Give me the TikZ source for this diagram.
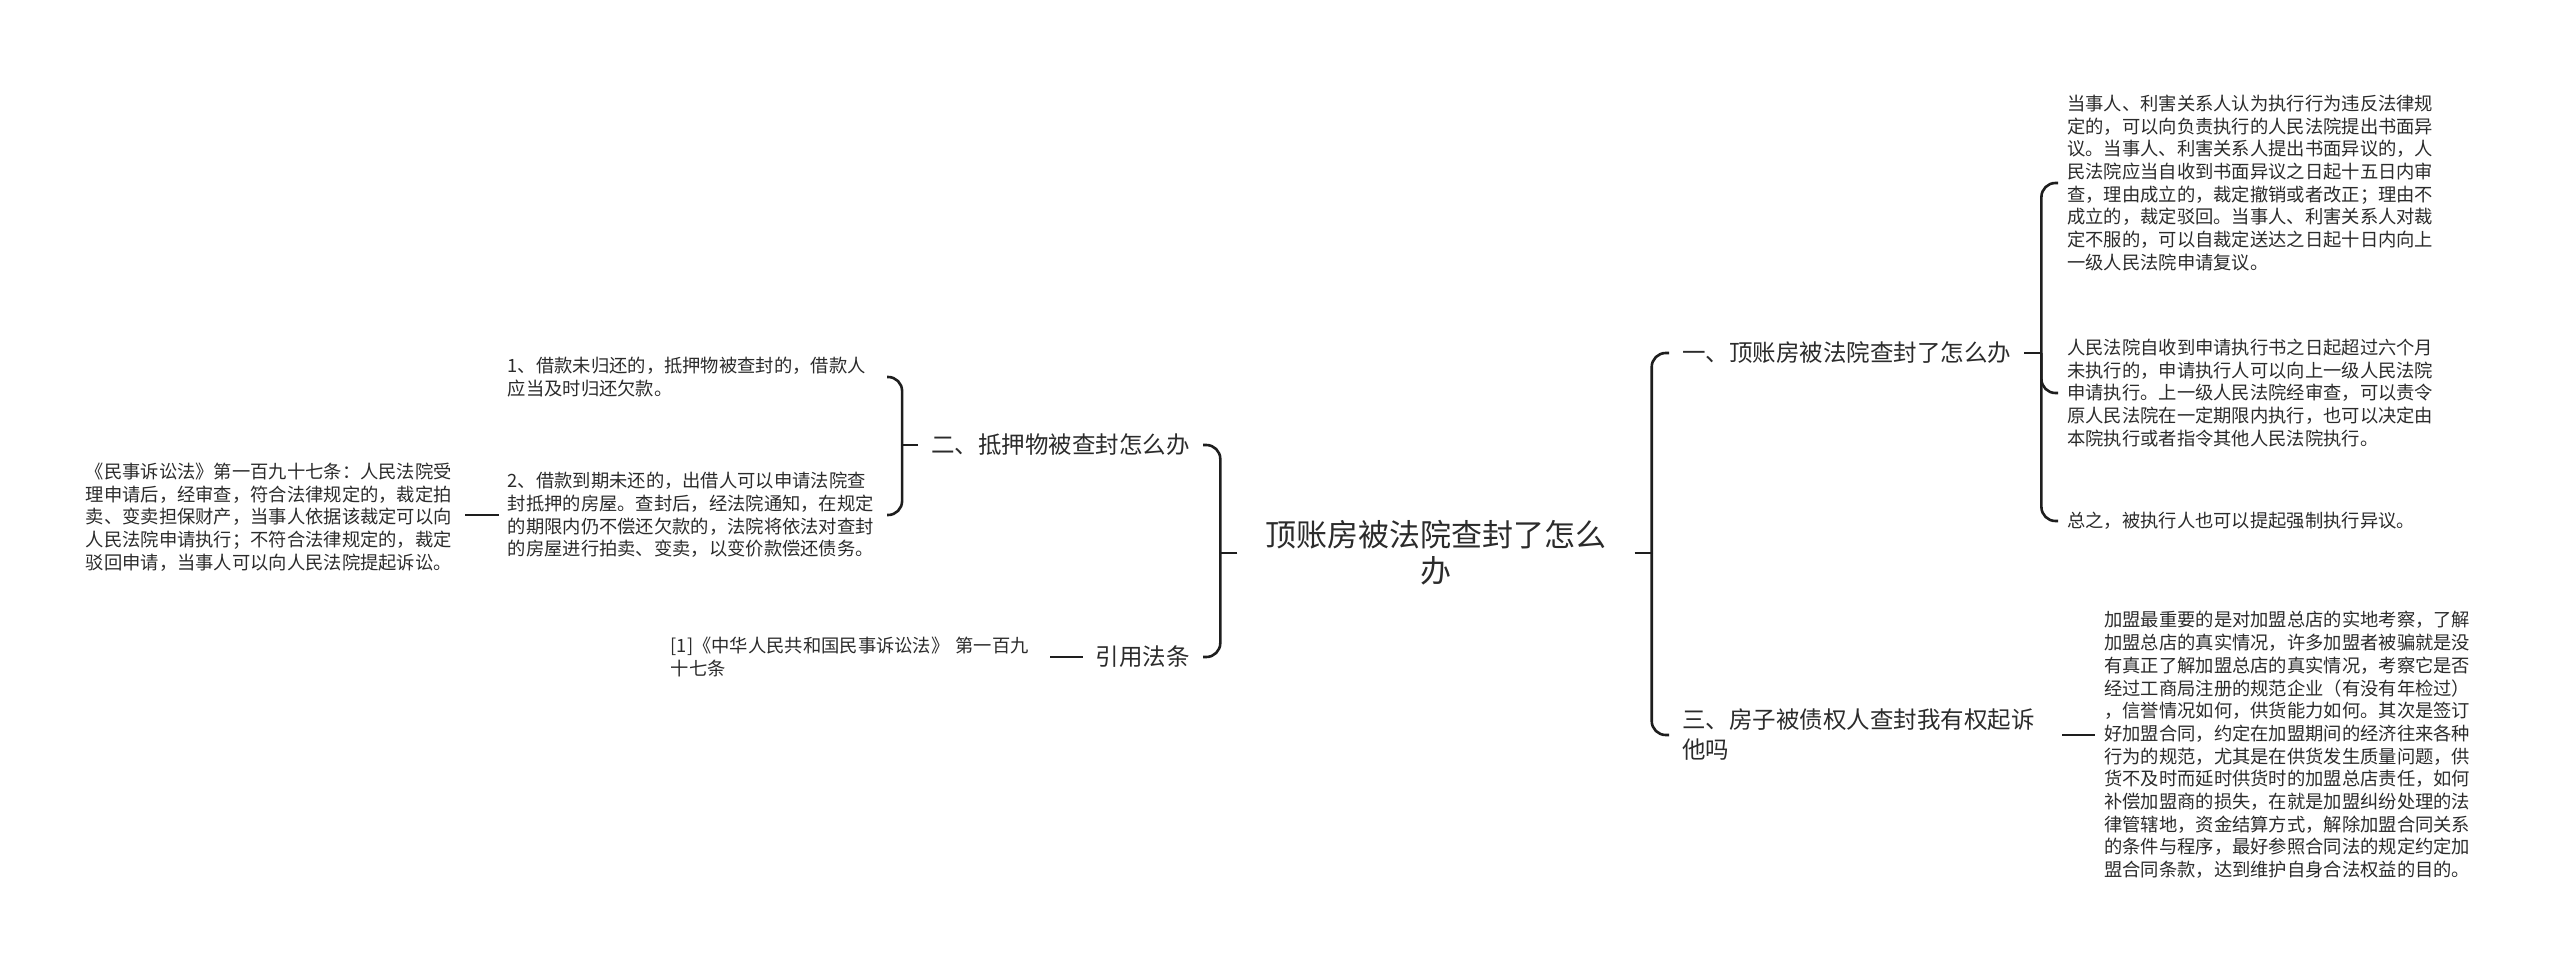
\documentclass[tikz,border=0pt]{standalone}
\usepackage{fontspec}
\usepackage{tikz}
\usetikzlibrary{calc}
\newfontfamily\zhfont{Noto Sans CJK SC}
\definecolor{inkline}{HTML}{1E1E1E}
\definecolor{inktext}{HTML}{2B2B2B}
\tikzset{
	rootnode/.style={font=\zhfont\fontsize{31}{36}\selectfont, text=inktext, align=center, inner xsep=28pt, inner ysep=4pt},
	topicnode/.style={font=\zhfont\fontsize{23.5}{30}\selectfont, text=inktext, inner xsep=13pt, inner ysep=3pt},
	leafnode/.style={font=\zhfont\fontsize{18.3}{22.7}\selectfont, text=inktext, text width=370pt, align=left, inner xsep=9pt, inner ysep=3pt},
	link/.style={draw=inkline, line width=2.6pt, rounded corners=14pt},
}

\begin{document}
\begin{tikzpicture}[x=1pt, y=-1pt]
		%%%%% START %%%%%
		\useasboundingbox (0, 0) rectangle (2560, 963);
		
		\node[rootnode] (root) at (1436, 553) {顶账房被法院查封了怎么\\办};
		
		% left side
		\node[topicnode, anchor=east] (pledge) at (1203, 445) {二、抵押物被查封怎么办};
		\node[topicnode, anchor=east] (cite) at (1203, 657) {引用法条};
		
		\node[leafnode, anchor=east] (pledgeA) at (887, 377) {1、借款未归还的，抵押物被查封的，借款人\\应当及时归还欠款。};
		\node[leafnode, anchor=east] (pledgeB) at (887, 515) {2、借款到期未还的，出借人可以申请法院查\\封抵押的房屋。查封后，经法院通知，在规定\\的期限内仍不偿还欠款的，法院将依法对查封\\的房屋进行拍卖、变卖，以变价款偿还债务。};
		\node[leafnode, anchor=east] (lawtext) at (465, 517) {《民事诉讼法》第一百九十七条：人民法院受\\理申请后，经审查，符合法律规定的，裁定拍\\卖、变卖担保财产，当事人依据该裁定可以向\\人民法院申请执行；不符合法律规定的，裁定\\驳回申请，当事人可以向人民法院提起诉讼。};
		\node[leafnode, anchor=east] (citeA) at (1050, 657) {[1]《中华人民共和国民事诉讼法》 第一百九\\十七条};
		
		% right side
		\node[topicnode, anchor=west] (seal) at (1669, 353) {一、顶账房被法院查封了怎么办};
		\node[topicnode, anchor=west, text width=367pt, align=left] (sue) at (1669, 735) {三、房子被债权人查封我有权起诉\\他吗};
		
		\node[leafnode, anchor=west] (sealA) at (2058, 183) {当事人、利害关系人认为执行行为违反法律规\\定的，可以向负责执行的人民法院提出书面异\\议。当事人、利害关系人提出书面异议的，人\\民法院应当自收到书面异议之日起十五日内审\\查，理由成立的，裁定撤销或者改正；理由不\\成立的，裁定驳回。当事人、利害关系人对裁\\定不服的，可以自裁定送达之日起十日内向上\\一级人民法院申请复议。};
		\node[leafnode, anchor=west] (sealB) at (2058, 393) {人民法院自收到申请执行书之日起超过六个月\\未执行的，申请执行人可以向上一级人民法院\\申请执行。上一级人民法院经审查，可以责令\\原人民法院在一定期限内执行，也可以决定由\\本院执行或者指令其他人民法院执行。};
		\node[leafnode, anchor=west] (sealC) at (2058, 521) {总之，被执行人也可以提起强制执行异议。};
		\node[leafnode, anchor=west] (sueA) at (2095, 745) {加盟最重要的是对加盟总店的实地考察，了解\\加盟总店的真实情况，许多加盟者被骗就是没\\有真正了解加盟总店的真实情况，考察它是否\\经过工商局注册的规范企业（有没有年检过）\\，信誉情况如何，供货能力如何。其次是签订\\好加盟合同，约定在加盟期间的经济往来各种\\行为的规范，尤其是在供货发生质量问题，供\\货不及时而延时供货时的加盟总店责任，如何\\补偿加盟商的损失，在就是加盟纠纷处理的法\\律管辖地，资金结算方式，解除加盟合同关系\\的条件与程序，最好参照合同法的规定约定加\\盟合同条款，达到维护自身合法权益的目的。};
		
		% brackets
		\draw[link] (root.west) -- ++(-17, 0) coordinate (jl);
		\draw[link] (jl) |- (pledge.east);
		\draw[link] (jl) |- (cite.east);
		
		\draw[link] (pledge.west) -- ++(-16, 0) coordinate (jp);
		\draw[link] (jp) |- (pledgeA.east);
		\draw[link] (jp) |- (pledgeB.east);
		\draw[link] (pledgeB.west) -- (pledgeB.west -| lawtext.east);
		\draw[link] (cite.west) -- (cite.west -| citeA.east);
		
		\draw[link] (root.east) -- ++(17, 0) coordinate (jr);
		\draw[link] (jr) |- (seal.west);
		\draw[link] (jr) |- (sue.west);
		
		\draw[link] (seal.east) -- ++(17, 0) coordinate (js);
		\draw[link] (js) |- (sealA.west);
		\draw[link] (js) |- (sealB.west);
		\draw[link] (js) |- (sealC.west);
		\draw[link] (sue.east) -- (sue.east -| sueA.west);
		%%%%% END %%%%%
\end{tikzpicture}
\end{document}
